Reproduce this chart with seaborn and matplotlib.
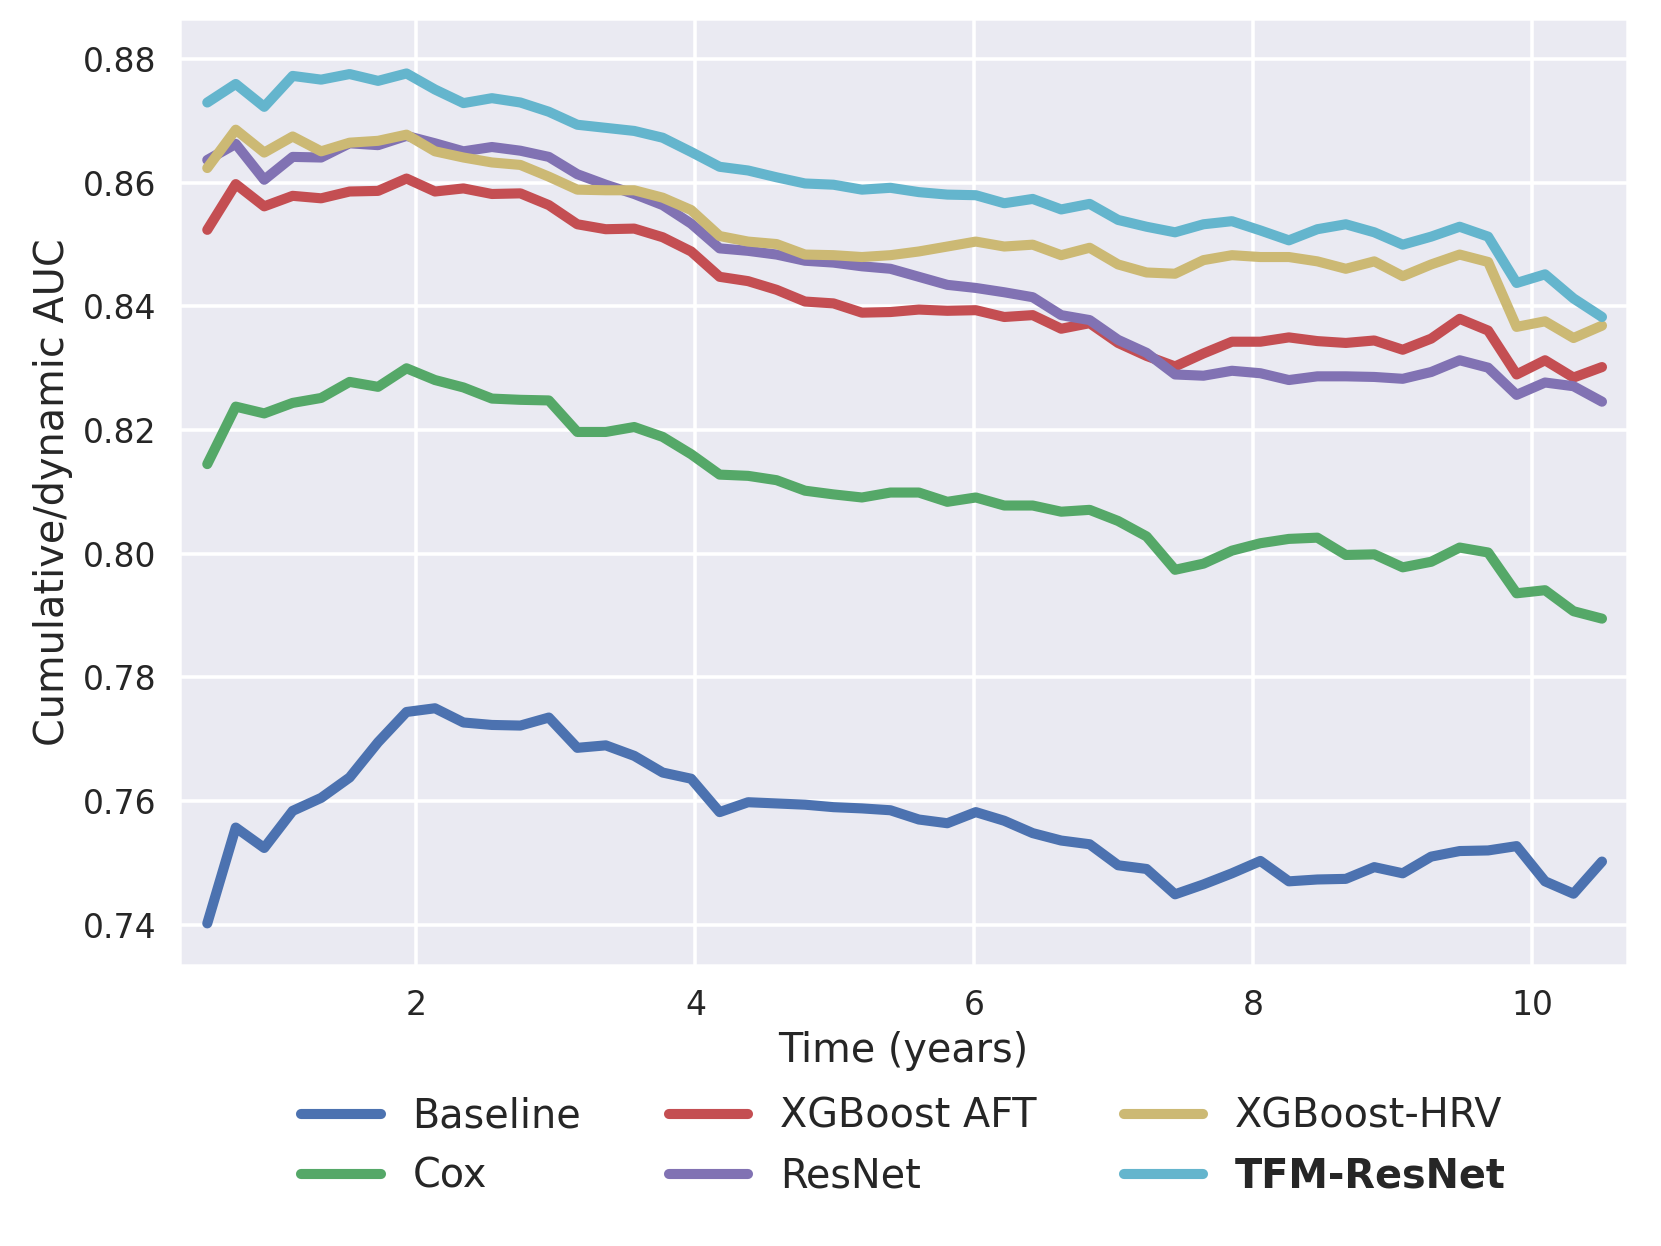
import numpy as np
import pandas as pd
import matplotlib
matplotlib.use("Agg")
import matplotlib.pyplot as plt
import seaborn as sns

# evaluation time grid (years)
time = np.linspace(0.5, 10.5, 50)

baseline = [0.7402, 0.7557, 0.7524, 0.7584, 0.7605, 0.7638, 0.7695, 0.7744, 0.7750, 0.7727,
            0.7723, 0.7722, 0.7735, 0.7686, 0.7690, 0.7673, 0.7646, 0.7636, 0.7582, 0.7598,
            0.7596, 0.7594, 0.7590, 0.7588, 0.7585, 0.7570, 0.7564, 0.7582, 0.7568, 0.7548,
            0.7536, 0.7530, 0.7496, 0.7490, 0.7449, 0.7465, 0.7483, 0.7503, 0.7470, 0.7473,
            0.7474, 0.7493, 0.7483, 0.7510, 0.7519, 0.7520, 0.7527, 0.7470, 0.7450, 0.7502]

cox = [0.8145, 0.8238, 0.8227, 0.8244, 0.8252, 0.8278, 0.8270, 0.8300, 0.8281, 0.8269,
       0.8251, 0.8249, 0.8248, 0.8197, 0.8197, 0.8205, 0.8189, 0.8161, 0.8128, 0.8126,
       0.8119, 0.8102, 0.8096, 0.8091, 0.8099, 0.8099, 0.8084, 0.8091, 0.8078, 0.8078,
       0.8068, 0.8071, 0.8053, 0.8028, 0.7974, 0.7984, 0.8005, 0.8017, 0.8024, 0.8026,
       0.7998, 0.7999, 0.7978, 0.7987, 0.8010, 0.8002, 0.7936, 0.7941, 0.7907, 0.7895]

xgb_aft = [0.8524, 0.8598, 0.8562, 0.8579, 0.8575, 0.8586, 0.8587, 0.8607, 0.8586, 0.8591,
           0.8582, 0.8583, 0.8564, 0.8533, 0.8525, 0.8526, 0.8512, 0.8489, 0.8448, 0.8441,
           0.8427, 0.8408, 0.8405, 0.8390, 0.8391, 0.8395, 0.8393, 0.8394, 0.8383, 0.8386,
           0.8364, 0.8373, 0.8341, 0.8320, 0.8303, 0.8324, 0.8343, 0.8343, 0.8350, 0.8344,
           0.8341, 0.8345, 0.8330, 0.8348, 0.8380, 0.8361, 0.8290, 0.8313, 0.8285, 0.8302]

resnet = [0.8637, 0.8663, 0.8605, 0.8642, 0.8641, 0.8664, 0.8661, 0.8676, 0.8664, 0.8651,
          0.8658, 0.8652, 0.8642, 0.8614, 0.8597, 0.8582, 0.8564, 0.8534, 0.8494, 0.8490,
          0.8484, 0.8474, 0.8471, 0.8465, 0.8461, 0.8448, 0.8435, 0.8430, 0.8423, 0.8415,
          0.8386, 0.8378, 0.8346, 0.8325, 0.8290, 0.8288, 0.8296, 0.8292, 0.8281, 0.8287,
          0.8287, 0.8286, 0.8283, 0.8294, 0.8313, 0.8301, 0.8257, 0.8277, 0.8271, 0.8246]

xgb_hrv = [0.8624, 0.8686, 0.8649, 0.8675, 0.8651, 0.8665, 0.8668, 0.8678, 0.8651, 0.8641,
           0.8633, 0.8629, 0.8610, 0.8589, 0.8588, 0.8588, 0.8576, 0.8556, 0.8514, 0.8505,
           0.8501, 0.8484, 0.8483, 0.8480, 0.8483, 0.8489, 0.8497, 0.8505, 0.8497, 0.8500,
           0.8483, 0.8495, 0.8468, 0.8455, 0.8453, 0.8475, 0.8483, 0.8480, 0.8480, 0.8473,
           0.8461, 0.8473, 0.8449, 0.8468, 0.8484, 0.8472, 0.8367, 0.8376, 0.8349, 0.8369]

tfm_resnet = [0.8730, 0.8760, 0.8723, 0.8773, 0.8767, 0.8776, 0.8765, 0.8777, 0.8751, 0.8729,
              0.8737, 0.8730, 0.8715, 0.8694, 0.8689, 0.8684, 0.8673, 0.8650, 0.8626, 0.8620,
              0.8609, 0.8599, 0.8597, 0.8589, 0.8592, 0.8585, 0.8581, 0.8580, 0.8567, 0.8574,
              0.8557, 0.8566, 0.8540, 0.8529, 0.8520, 0.8533, 0.8538, 0.8523, 0.8507, 0.8525,
              0.8533, 0.8520, 0.8500, 0.8513, 0.8529, 0.8513, 0.8438, 0.8452, 0.8413, 0.8383]

models = ["Baseline", "Cox", "XGBoost AFT", "ResNet", "XGBoost-HRV", "TFM-ResNet"]
series = [baseline, cox, xgb_aft, resnet, xgb_hrv, tfm_resnet]

df = pd.concat(
    [pd.DataFrame({"time": time, "auc": vals, "model": name}) for name, vals in zip(models, series)],
    ignore_index=True,
)

sns.set_theme(style="darkgrid")
plt.rcParams["font.family"] = ["DejaVu Sans"]

fig = plt.figure(figsize=(1661 / 260, 1246 / 260), dpi=260)
ax = fig.add_axes([0.108, 0.2247, 0.872, 0.761])

sns.lineplot(data=df, x="time", y="auc", hue="model", hue_order=models,
             palette=sns.color_palette("deep6"), linewidth=2.8, ax=ax)

ax.set_xlim(0.3, 10.685)
ax.set_ylim(0.7333, 0.8867)
ax.set_xticks([2, 4, 6, 8, 10])
ax.set_yticks([0.74, 0.76, 0.78, 0.80, 0.82, 0.84, 0.86, 0.88])
ax.set_yticklabels(["0.74", "0.76", "0.78", "0.80", "0.82", "0.84", "0.86", "0.88"])
ax.tick_params(labelsize=9.2, length=0, pad=6.4)
ax.set_xlabel("Time (years)", fontsize=11, labelpad=2.5)
ax.set_ylabel("Cumulative/dynamic AUC", fontsize=11, labelpad=2.8)

handles, labels = ax.get_legend_handles_labels()
leg = ax.legend(handles, labels, loc="upper center", bbox_to_anchor=(0.5, -0.10),
                ncol=3, frameon=False, fontsize=11, columnspacing=2.2)
for line in leg.get_lines():
    line.set_linewidth(2.8)
leg.get_texts()[5].set_fontweight("bold")

fig.savefig("out.png", dpi=260)
